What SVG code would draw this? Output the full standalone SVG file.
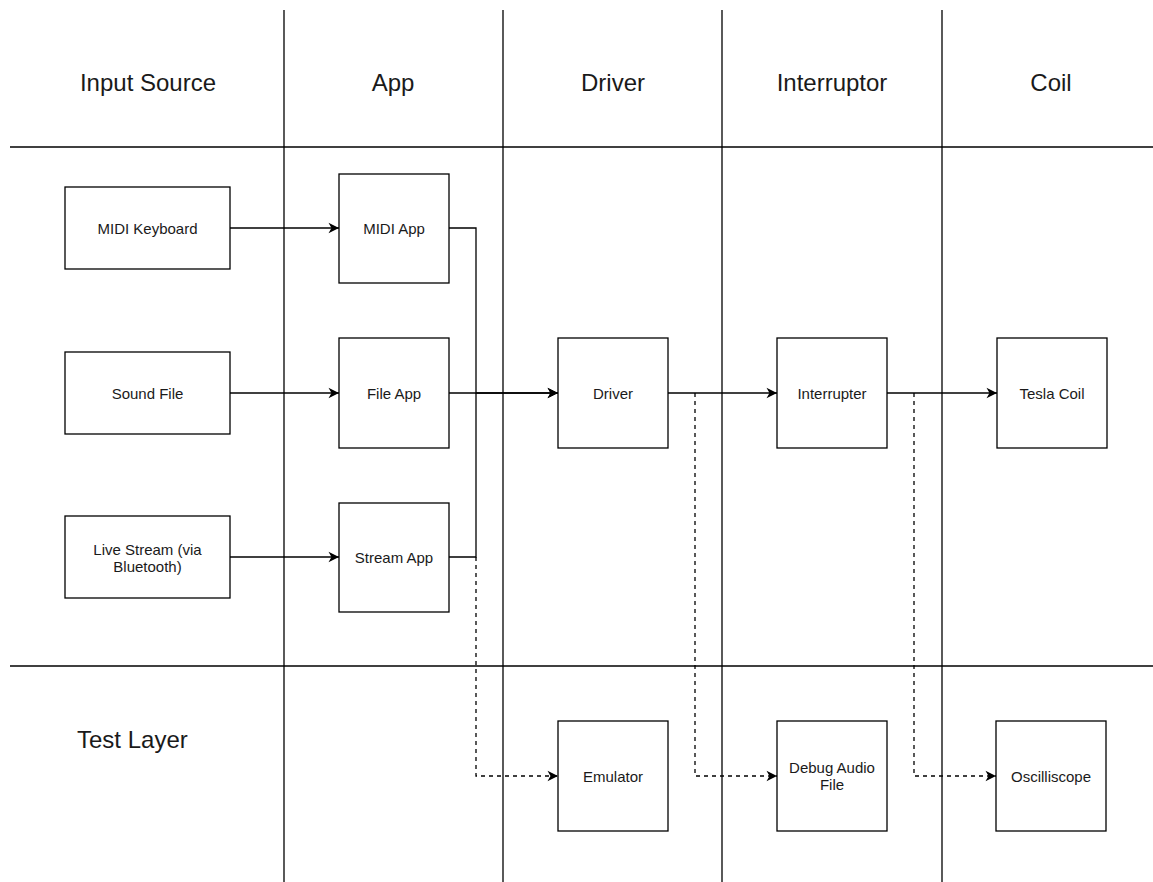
<svg xmlns="http://www.w3.org/2000/svg" width="1153" height="882" viewBox="0 0 1153 882">
<style>
.lane{stroke:#000;stroke-width:1.3;fill:none}
.box{fill:#fff;stroke:#000;stroke-width:1.3}
.hdr{font-family:"Liberation Sans",Arial,sans-serif;font-size:24px;fill:#1a1a1a;text-anchor:middle}
.lbl{font-family:"Liberation Sans",Arial,sans-serif;font-size:15px;fill:#1a1a1a;text-anchor:middle;dominant-baseline:central}
.edge{stroke:#000;stroke-width:1.3;fill:none}
.dash{stroke-dasharray:4 4}
</style>
<defs>
<marker id="arr" markerWidth="12" markerHeight="12" refX="11" refY="6" orient="auto" markerUnits="userSpaceOnUse">
<path d="M0.5,0.8 L11,6 L0.5,11.2 L3.5,6 Z" fill="#000"/>
</marker>
</defs>
<rect width="1153" height="882" fill="#fff"/>
<g id="lanes">
<line class="lane" x1="10" y1="147" x2="1153" y2="147"/>
<line class="lane" x1="10" y1="666" x2="1153" y2="666"/>
<line class="lane" x1="284" y1="10" x2="284" y2="882"/>
<line class="lane" x1="503" y1="10" x2="503" y2="882"/>
<line class="lane" x1="722" y1="10" x2="722" y2="882"/>
<line class="lane" x1="942" y1="10" x2="942" y2="882"/>
<text class="hdr" x="148" y="91">Input Source</text>
<text class="hdr" x="393" y="91">App</text>
<text class="hdr" x="613" y="91">Driver</text>
<text class="hdr" x="832" y="91">Interruptor</text>
<text class="hdr" x="1051" y="91">Coil</text>
<text class="hdr" x="77" y="748" style="text-anchor:start">Test Layer</text>
</g>
<g id="connectors">
<path class="edge" d="M230 228 H339" marker-end="url(#arr)"/>
<path class="edge" d="M230 393 H339" marker-end="url(#arr)"/>
<path class="edge" d="M230 557 H339" marker-end="url(#arr)"/>
<path class="edge" d="M449 228 H476 V393 H558" marker-end="url(#arr)"/>
<path class="edge" d="M449 393 H558" marker-end="url(#arr)"/>
<path class="edge" d="M449 557 H476 V393"/>
<path class="edge dash" d="M476 557 V776 H558" marker-end="url(#arr)"/>
<path class="edge" d="M668 393 H777" marker-end="url(#arr)"/>
<path class="edge dash" d="M695 393 V776 H777" marker-end="url(#arr)"/>
<path class="edge" d="M887 393 H997" marker-end="url(#arr)"/>
<path class="edge dash" d="M914 393 V776 H996" marker-end="url(#arr)"/>
</g>
<g id="midi-keyboard"><rect class="box" x="65" y="187" width="165" height="82"/><text class="lbl" x="147.5" y="228">MIDI Keyboard</text></g>
<g id="sound-file"><rect class="box" x="65" y="352" width="165" height="82"/><text class="lbl" x="147.5" y="393">Sound File</text></g>
<g id="live-stream"><rect class="box" x="65" y="516" width="165" height="82"/><text class="lbl" x="147.5" y="549">Live Stream (via</text><text class="lbl" x="147.5" y="566">Bluetooth)</text></g>
<g id="midi-app"><rect class="box" x="339" y="174" width="110" height="109"/><text class="lbl" x="394" y="228">MIDI App</text></g>
<g id="file-app"><rect class="box" x="339" y="338" width="110" height="110"/><text class="lbl" x="394" y="393">File App</text></g>
<g id="stream-app"><rect class="box" x="339" y="503" width="110" height="109"/><text class="lbl" x="394" y="557">Stream App</text></g>
<g id="driver"><rect class="box" x="558" y="338" width="110" height="110"/><text class="lbl" x="613" y="393">Driver</text></g>
<g id="interrupter"><rect class="box" x="777" y="338" width="110" height="110"/><text class="lbl" x="832" y="393">Interrupter</text></g>
<g id="tesla-coil"><rect class="box" x="997" y="338" width="110" height="110"/><text class="lbl" x="1052" y="393">Tesla Coil</text></g>
<g id="emulator"><rect class="box" x="558" y="721" width="110" height="110"/><text class="lbl" x="613" y="776">Emulator</text></g>
<g id="debug-audio-file"><rect class="box" x="777" y="721" width="110" height="110"/><text class="lbl" x="832" y="767">Debug Audio</text><text class="lbl" x="832" y="784">File</text></g>
<g id="oscilliscope"><rect class="box" x="996" y="721" width="110" height="110"/><text class="lbl" x="1051" y="776">Oscilliscope</text></g>
</svg>
